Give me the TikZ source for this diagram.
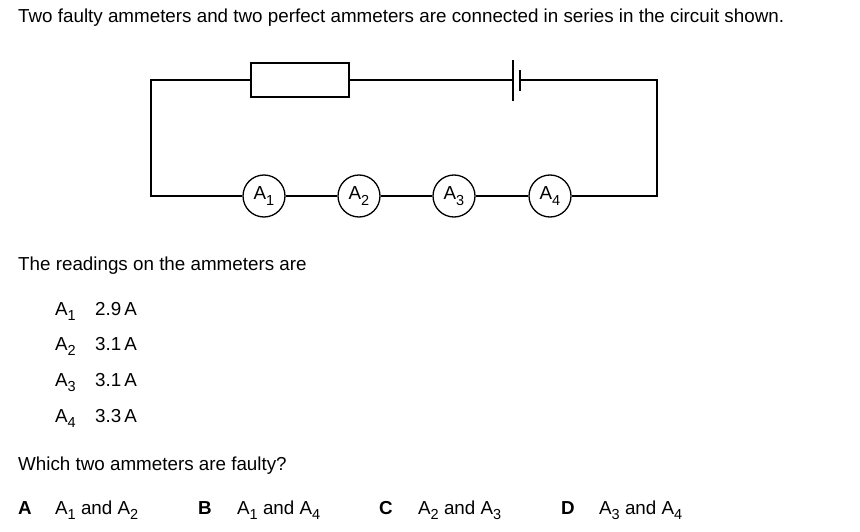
\documentclass[tikz,border=0pt]{standalone}
\usepackage{fontspec}
\setmainfont{Liberation Sans}
\newcommand{\subsc}[1]{\raisebox{-5.5pt}{\fontsize{14.5}{14.5}\selectfont #1}}
\begin{document}
\begin{tikzpicture}[x=1pt,y=-1pt,
  wire/.style={line width=1.8pt},
  meter/.style={draw,circle,line width=1.3pt,minimum size=42pt,inner sep=0pt,font=\fontsize{18.8}{22}\selectfont},
  txt/.style={anchor=base west,inner sep=0pt,font=\fontsize{18.8}{22}\selectfont},
  opt/.style={anchor=base west,inner sep=0pt,font=\fontsize{18.8}{22}\selectfont\bfseries}]
\useasboundingbox (0,0) rectangle (860,532);
% text
\node[txt] (title) at (18,23) {Two faulty ammeters and two perfect ammeters are connected in series in the circuit shown.};
\node[txt] (read) at (18,270) {The readings on the ammeters are};
\node[txt] (r1) at (55,315) {A\subsc{1}};
\node[txt] (v1) at (95,315) {2.9\,A};
\node[txt] (r2) at (55,350) {A\subsc{2}};
\node[txt] (v2) at (95,350) {3.1\,A};
\node[txt] (r3) at (55,386) {A\subsc{3}};
\node[txt] (v3) at (95,386) {3.1\,A};
\node[txt] (r4) at (55,422) {A\subsc{4}};
\node[txt] (v4) at (95,422) {3.3\,A};
\node[txt] (q) at (18,470) {Which two ammeters are faulty?};
\node[opt] (oA) at (18,514) {A};
\node[txt] (tA) at (55,514) {A\subsc{1} and A\subsc{2}};
\node[opt] (oB) at (198,514) {B};
\node[txt] (tB) at (237,514) {A\subsc{1} and A\subsc{4}};
\node[opt] (oC) at (379,514) {C};
\node[txt] (tC) at (418,514) {A\subsc{2} and A\subsc{3}};
\node[opt] (oD) at (561,514) {D};
\node[txt] (tD) at (599,514) {A\subsc{3} and A\subsc{4}};
% circuit
\coordinate (tl) at (151,80);
\coordinate (tr) at (657,80);
\coordinate (bl) at (151,196);
\coordinate (br) at (657,196);
\node[draw,rectangle,line width=1.8pt,minimum width=98pt,minimum height=34pt,inner sep=0pt] (R) at (300,80) {};
\coordinate (bL) at (513,80);
\coordinate (bR) at (520,80);
\coordinate (bLt) at (513,60);
\coordinate (bLb) at (513,101);
\coordinate (bRt) at (520,70);
\coordinate (bRb) at (520,91);
\node[meter] (A1) at (264,196) {A\subsc{1}};
\node[meter] (A2) at (359,196) {A\subsc{2}};
\node[meter] (A3) at (454,196) {A\subsc{3}};
\node[meter] (A4) at (550,196) {A\subsc{4}};
\draw[wire] (R.west) -- (tl) -- (bl) -- (A1);
\draw[wire] (R.east) -- (bL);
\draw[wire] (bLt) -- (bLb);
\draw[wire] (bRt) -- (bRb);
\draw[wire] (bR) -- (tr) -- (br) -- (A4);
\draw[wire] (A1) -- (A2);
\draw[wire] (A2) -- (A3);
\draw[wire] (A3) -- (A4);
\end{tikzpicture}
\end{document}
